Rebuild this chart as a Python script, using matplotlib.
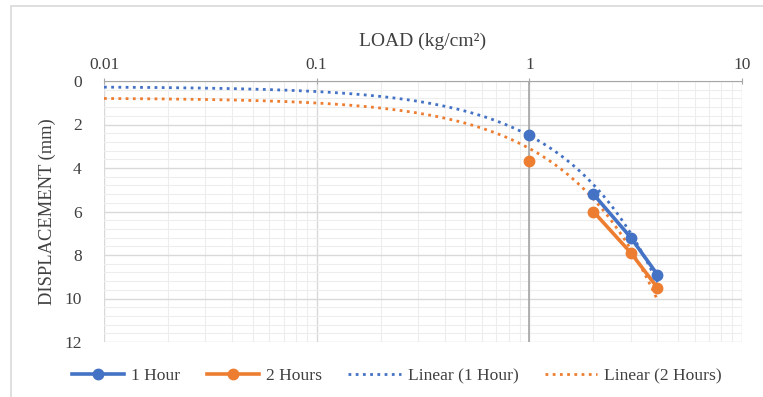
import numpy as np
import matplotlib.pyplot as plt
from matplotlib.lines import Line2D
from matplotlib.patches import Rectangle

# load steps (kg/cm2); the 0 load point can't show on a log axis but feeds the trendline
load = [0, 1, 2, 3, 4]
disp_1h = [0, 2.5, 5.2, 7.2, 8.9]
disp_2h = [0, 3.7, 6.0, 7.9, 9.5]
x_ticks = [0.01, 0.1, 1, 10]
x_labels = ['0.01', '0.1', '1', '10']
y_ticks = [0, 2, 4, 6, 8, 10, 12]

blue = '#4472C4'
orange = '#ED7D31'

plt.rcParams['font.family'] = ['Liberation Serif', 'DejaVu Serif']


def make_plot():
	fig = plt.figure(figsize=(7.63, 3.97), dpi=100)
	fig.patches.append(Rectangle((11 / 763, -0.1), 1.2, 1 - 6 / 397 + 0.1,
		transform=fig.transFigure, fill=False, edgecolor='#D9D9D9', lw=1.2))
	ax = fig.add_axes([104 / 763, 1 - 342 / 397, 638 / 763, 261 / 397])

	ax.set_xscale('log')
	ax.set_xlim(0.01, 10)
	ax.set_ylim(12, 0)

	# excel style linear trendlines (fit in linear x, drawn on the log axis)
	xs = np.logspace(-2, np.log10(max(load)), 300)
	for ys, c in [(disp_1h, blue), (disp_2h, orange)]:
		k, b = np.polyfit(load, ys, 1)
		ax.plot(xs, k * xs + b, color=c, lw=2, ls=(0, (1, 1.6)), zorder=3)

	for ys, c in [(disp_1h, blue), (disp_2h, orange)]:
		ax.plot(load[2:], ys[2:], color=c, lw=2.6, zorder=4)
		ax.plot(load[1:], ys[1:], ls='none', marker='o', ms=7.5, color=c, zorder=5)

	ax.xaxis.tick_top()
	ax.xaxis.set_label_position('top')
	ax.set_xticks(x_ticks)
	ax.set_xticklabels(x_labels)
	ax.set_yticks(y_ticks)
	ax.set_yticks(np.arange(0, 12.01, 0.4), minor=True)
	ax.tick_params(axis='x', which='major', length=5, direction='inout',
		color='#A6A6A6', labelsize=12.5, labelcolor='#404040', pad=3)
	ax.tick_params(axis='x', which='minor', length=0)
	ax.tick_params(axis='y', which='both', length=0, labelsize=12.5,
		labelcolor='#404040', pad=16)

	ax.grid(True, which='major', color='#D9D9D9', lw=1)
	ax.grid(True, which='minor', color='#EDEDED', lw=0.8)
	ax.axvline(1, color='#A6A6A6', lw=1.2, zorder=2)
	for s in ['left', 'right', 'bottom']:
		ax.spines[s].set_visible(False)
	ax.spines['top'].set_color('#A6A6A6')
	ax.set_axisbelow(True)

	ax.set_xlabel('LOAD (kg/cm\u00b2)', fontsize=14, color='#404040', labelpad=8)
	ax.set_ylabel('DISPLACEMENT (mm)', fontsize=13.3, color='#404040', labelpad=6)

	handles = [
		Line2D([], [], color=blue, lw=2.6, marker='o', ms=7.5),
		Line2D([], [], color=orange, lw=2.6, marker='o', ms=7.5),
		Line2D([], [], color=blue, lw=2, ls=(0, (1, 1.6))),
		Line2D([], [], color=orange, lw=2, ls=(0, (1, 1.6))),
	]
	names = ['1 Hour', '2 Hours', 'Linear (1 Hour)', 'Linear (2 Hours)']
	fig.legend(handles, names, loc='center', bbox_to_anchor=(0.52, 1 - 376 / 397),
		ncol=4, frameon=False, fontsize=12.6, handlelength=3.0,
		columnspacing=1.5, handletextpad=0.4, labelcolor='#404040')

	fig.savefig('out.png', dpi=100)


if __name__ == "__main__":
	make_plot()
